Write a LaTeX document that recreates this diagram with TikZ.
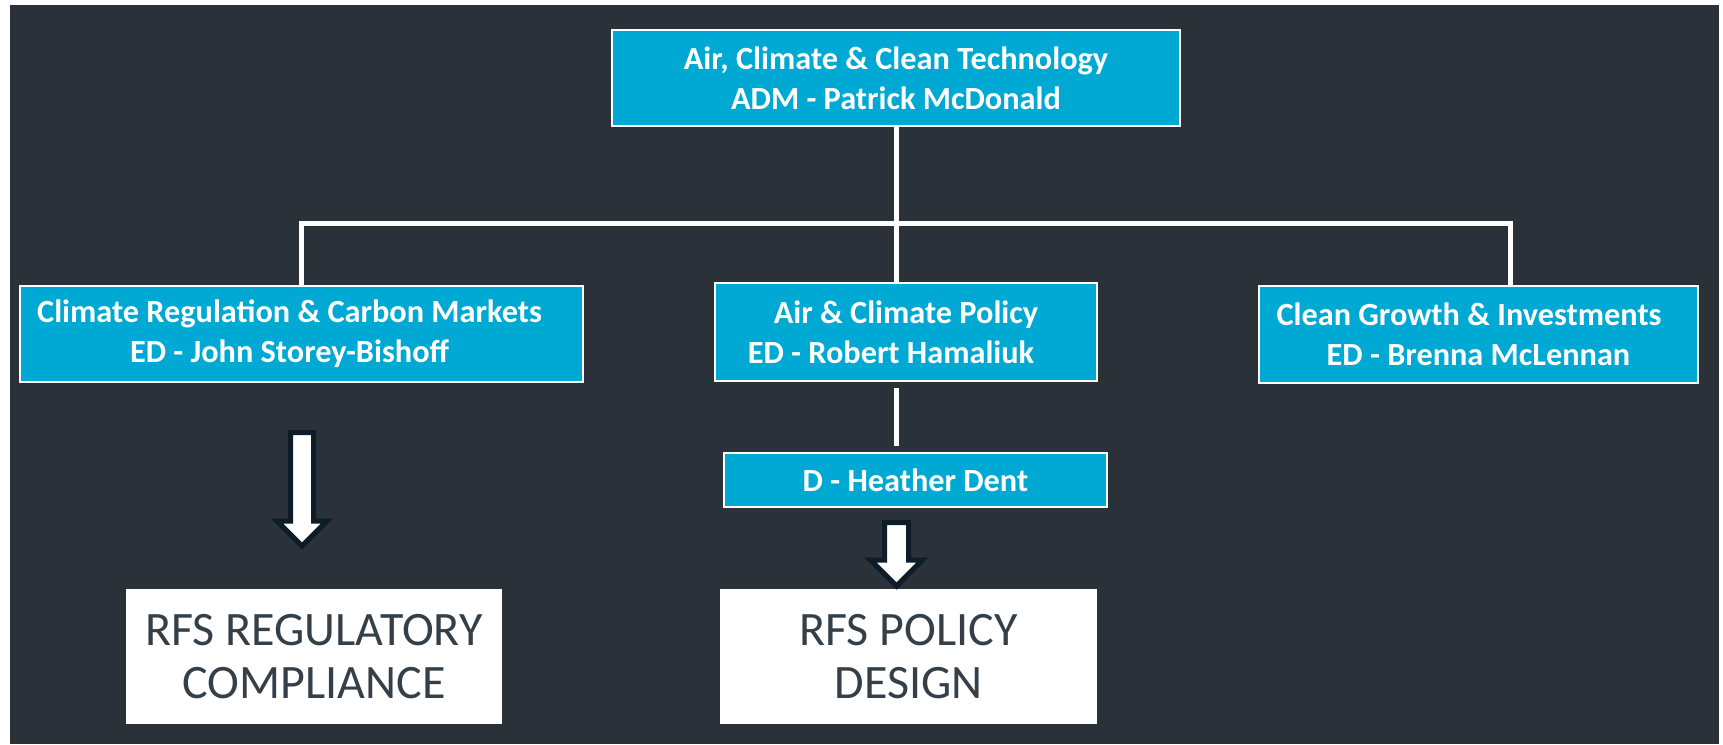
\documentclass[tikz,border=0pt]{standalone}
\usepackage{fontspec}
\setmainfont{Carlito}
\usetikzlibrary{calc}
\definecolor{bgdark}{RGB}{42,49,57}
\definecolor{boxcyan}{RGB}{0,169,211}
\definecolor{outl}{RGB}{12,28,40}
\definecolor{txtdark}{RGB}{52,63,72}
\begin{document}
\begin{tikzpicture}[x=1pt,y=-1pt,
 orgbox/.style={draw=white, line width=1.2pt, fill=boxcyan, text=white, font=\bfseries\fontsize{32.3}{40}\selectfont, align=center, inner sep=0pt},
 outbox/.style={fill=white, text=txtdark, font=\fontsize{48}{53}\selectfont, align=center, inner sep=0pt},
 link/.style={white, line width=5pt, line join=miter},
 blockarrow/.style={draw=outl, fill=white, line width=5pt, line join=miter}]
\useasboundingbox (0,0) rectangle (1723,744);
\fill[white] (0,0) rectangle (1723,744);
\fill[bgdark] (10,5) rectangle (1719,744);

\node[orgbox, minimum width=568pt, minimum height=96pt] (top) at (896,78) {Air, Climate \& Clean Technology\\ADM - Patrick McDonald};
\node[orgbox, minimum width=563pt, minimum height=96pt] (left) at (301.5,334) {Climate Regulation \& Carbon Markets\hspace*{24pt}\\ED - John Storey-Bishoff\hspace*{24pt}};
\node[orgbox, minimum width=382pt, minimum height=98pt] (mid) at (906,332) {Air \& Climate Policy\\ED - Robert Hamaliuk\hspace*{30pt}};
\node[orgbox, minimum width=439pt, minimum height=97pt] (right) at (1478.5,334.5) {Clean Growth \& Investments\hspace*{19pt}\\ED - Brenna McLennan};
\node[orgbox, minimum width=383pt, minimum height=54pt] (dent) at (915.5,480) {D - Heather Dent};

\node[outbox, minimum width=376pt, minimum height=135pt] (reg) at (314,656.5) {RFS REGULATORY\\COMPLIANCE};
\node[outbox, minimum width=377pt, minimum height=135pt] (pol) at (908.5,656.5) {RFS POLICY\\DESIGN};

\coordinate (hub) at (top.south |- 0,223);
\coordinate (rdrop) at (1510,223);
\draw[link] (top.south) -- (top.south |- mid.north);
\draw[link] (left.north) |- (rdrop) -- (rdrop |- right.north);
\draw[link] ($(mid.south -| top.south)+(0,6)$) -- ($(dent.north -| top.south)+(0,-6)$);

% block arrows
\draw[blockarrow] (290.5,432.5) -- (313.5,432.5) -- (313.5,521) -- (327,521) -- (302,546) -- (277,521) -- (290.5,521) -- cycle;
\draw[blockarrow] (884.5,522.5) -- (908.5,522.5) -- (908.5,560) -- (922.5,560) -- (896.5,586) -- (870.5,560) -- (884.5,560) -- cycle;
\end{tikzpicture}
\end{document}
